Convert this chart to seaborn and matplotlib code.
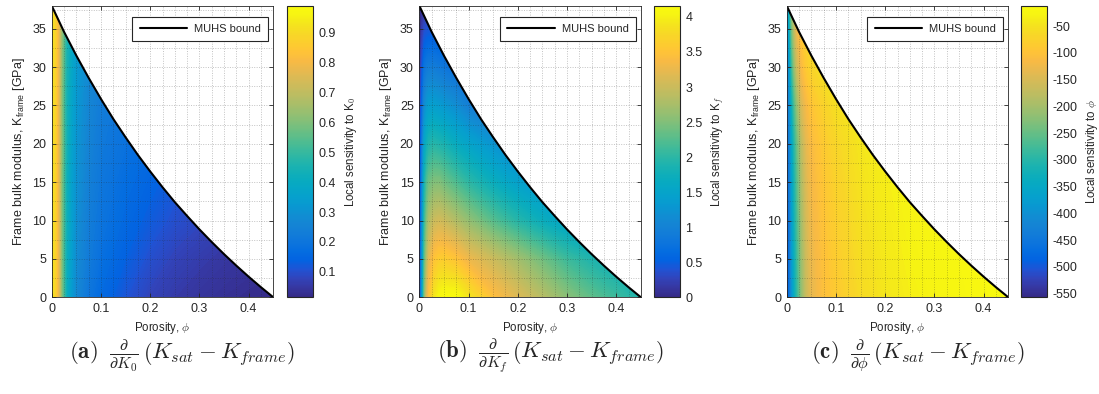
import numpy as np
import matplotlib
matplotlib.use("Agg")
import matplotlib.pyplot as plt
import seaborn as sns
from matplotlib.colors import LinearSegmentedColormap, Normalize
from matplotlib.cm import ScalarMappable
from matplotlib.patches import Polygon

# ---------------------------------------------------------------------------
# Data
# ---------------------------------------------------------------------------
# Grid nodes of the sensitivity maps
phi_nodes = [0, 0.005, 0.01, 0.015, 0.02, 0.03, 0.04, 0.05, 0.075, 0.1,
             0.15, 0.2, 0.25, 0.3, 0.35, 0.4, 0.45]
k_nodes = [0, 5, 10, 15, 20, 25, 30, 38]

# d(Ksat - Kframe)/dK0  (rows follow k_nodes, columns follow phi_nodes)
sens_k0 = [
    [0.93, 0.90, 0.84, 0.74, 0.60, 0.42, 0.33, 0.27, 0.20, 0.160, 0.110, 0.075, 0.055, 0.042, 0.032, 0.025, 0.020],
    [0.93, 0.90, 0.84, 0.74, 0.60, 0.42, 0.34, 0.28, 0.22, 0.180, 0.135, 0.100, 0.075, 0.060, 0.048, 0.040, 0.035],
    [0.93, 0.90, 0.84, 0.74, 0.60, 0.43, 0.35, 0.29, 0.23, 0.195, 0.155, 0.125, 0.100, 0.085, 0.070, 0.060, 0.050],
    [0.93, 0.90, 0.84, 0.74, 0.60, 0.43, 0.35, 0.30, 0.24, 0.205, 0.170, 0.145, 0.120, 0.100, 0.090, 0.080, 0.070],
    [0.93, 0.90, 0.84, 0.74, 0.61, 0.44, 0.36, 0.31, 0.25, 0.215, 0.185, 0.160, 0.140, 0.120, 0.100, 0.090, 0.080],
    [0.93, 0.90, 0.84, 0.74, 0.61, 0.44, 0.37, 0.32, 0.26, 0.225, 0.195, 0.170, 0.150, 0.130, 0.110, 0.100, 0.090],
    [0.93, 0.90, 0.84, 0.75, 0.62, 0.45, 0.38, 0.33, 0.27, 0.235, 0.200, 0.180, 0.160, 0.140, 0.120, 0.110, 0.100],
    [0.93, 0.90, 0.85, 0.76, 0.63, 0.46, 0.39, 0.34, 0.28, 0.245, 0.210, 0.190, 0.170, 0.150, 0.130, 0.120, 0.110],
]

# d(Ksat - Kframe)/dKf
sens_kf = [
    [0.0, 1.20, 2.40, 3.10, 3.50, 3.90, 4.08, 4.14, 4.14, 3.90, 3.45, 3.15, 2.85, 2.55, 2.30, 2.10, 1.90],
    [0.0, 1.10, 2.20, 2.80, 3.20, 3.50, 3.60, 3.62, 3.50, 3.28, 3.00, 2.70, 2.40, 2.10, 1.90, 1.75, 1.60],
    [0.0, 1.00, 2.00, 2.50, 2.80, 3.00, 3.05, 3.00, 2.80, 2.60, 2.25, 1.95, 1.70, 1.50, 1.35, 1.25, 1.20],
    [0.0, 0.90, 1.80, 2.20, 2.40, 2.50, 2.50, 2.40, 2.20, 2.00, 1.70, 1.45, 1.30, 1.15, 1.05, 1.00, 0.95],
    [0.0, 0.80, 1.50, 1.75, 1.90, 1.95, 1.90, 1.85, 1.65, 1.50, 1.25, 1.05, 0.95, 0.85, 0.80, 0.75, 0.70],
    [0.0, 0.60, 1.10, 1.30, 1.40, 1.40, 1.35, 1.30, 1.15, 0.95, 0.80, 0.70, 0.60, 0.55, 0.50, 0.50, 0.50],
    [0.0, 0.40, 0.75, 0.85, 0.90, 0.90, 0.85, 0.80, 0.70, 0.60, 0.50, 0.45, 0.40, 0.35, 0.35, 0.35, 0.35],
    [0.0, 0.05, 0.10, 0.11, 0.12, 0.12, 0.11, 0.10, 0.10, 0.10, 0.10, 0.10, 0.10, 0.10, 0.10, 0.10, 0.10],
]

# d(Ksat - Kframe)/dphi
sens_phi = [
    [-545, -470, -400, -345, -300, -220, -165, -135, -105, -88, -62, -45, -35, -28, -23, -20, -18],
    [-540, -465, -392, -337, -292, -212, -160, -130, -102, -84, -58, -42, -32, -26, -22, -19, -17],
    [-535, -458, -385, -328, -283, -203, -153, -125, -98, -80, -54, -39, -30, -24, -20, -18, -16],
    [-528, -450, -375, -318, -272, -193, -146, -120, -94, -75, -50, -36, -28, -23, -19, -17, -15],
    [-520, -440, -362, -305, -258, -180, -137, -113, -88, -69, -46, -33, -26, -21, -18, -16, -14],
    [-510, -420, -335, -275, -225, -152, -118, -98, -74, -56, -38, -28, -22, -18, -16, -14, -13],
    [-495, -390, -290, -225, -170, -115, -88, -72, -52, -40, -28, -22, -18, -15, -14, -13, -12],
    [-470, -330, -220, -160, -115, -80, -62, -50, -38, -30, -22, -18, -15, -13, -12, -12, -12],
]

# Modified upper Hashin-Shtrikman bound
bound_phi = [0, 0.025, 0.05, 0.075, 0.1, 0.125, 0.15, 0.175, 0.2, 0.225, 0.25,
             0.275, 0.3, 0.325, 0.35, 0.375, 0.4, 0.425, 0.45]
bound_k = [38.0, 34.6, 31.5, 28.6, 25.85, 23.25, 20.85, 18.55, 16.4, 14.35, 12.4,
           10.6, 8.85, 7.2, 5.62, 4.12, 2.68, 1.31, 0.0]

# Colour ranges and colourbar ticks
clim_k0 = (0.015, 0.99)
clim_kf = (0.0, 4.16)
clim_phi = (-557, -12)
cticks_k0 = [0.1, 0.2, 0.3, 0.4, 0.5, 0.6, 0.7, 0.8, 0.9]
cticks_kf = [0, 0.5, 1, 1.5, 2, 2.5, 3, 3.5, 4]
cticks_phi = [-550, -500, -450, -400, -350, -300, -250, -200, -150, -100, -50]

x_ticks = [0, 0.1, 0.2, 0.3, 0.4]
y_ticks = [0, 5, 10, 15, 20, 25, 30, 35]

cbar_labels = ["Local sensitivity to K$_0$", "Local sensitivity to K$_f$",
               "Local sensitivity to $\\phi$"]
captions = [
    r"$\mathbf{(a)}\;\;\frac{\partial}{\partial K_0}\,\left(K_{sat}-K_{frame}\right)$",
    r"$\mathbf{(b)}\;\;\frac{\partial}{\partial K_f}\,\left(K_{sat}-K_{frame}\right)$",
    r"$\mathbf{(c)}\;\;\frac{\partial}{\partial \phi}\,\left(K_{sat}-K_{frame}\right)$",
]


def fmt(v):
    return f"{v:g}"


# ---------------------------------------------------------------------------
# Style
# ---------------------------------------------------------------------------
sns.set_style("ticks")
plt.rcParams["font.family"] = ["Liberation Sans", "DejaVu Sans"]
plt.rcParams["mathtext.fontset"] = "cm"
plt.rcParams["axes.unicode_minus"] = False
plt.rcParams["axes.linewidth"] = 0.6

parula_rgb = [
    (0.2081, 0.1663, 0.5292), (0.2123, 0.2138, 0.6270), (0.1959, 0.2645, 0.7279),
    (0.1253, 0.3242, 0.8303), (0.0117, 0.3875, 0.8820), (0.0165, 0.4266, 0.8786),
    (0.0498, 0.4586, 0.8641), (0.0723, 0.4887, 0.8467), (0.0793, 0.5200, 0.8312),
    (0.0641, 0.5570, 0.8240), (0.0343, 0.5966, 0.8199), (0.0239, 0.6287, 0.8038),
    (0.0228, 0.6535, 0.7768), (0.0384, 0.6743, 0.7436), (0.0843, 0.6928, 0.7062),
    (0.1453, 0.7098, 0.6646), (0.2178, 0.7250, 0.6193), (0.3022, 0.7376, 0.5712),
    (0.3953, 0.7459, 0.5244), (0.4871, 0.7491, 0.4840), (0.5709, 0.7485, 0.4494),
    (0.6473, 0.7456, 0.4188), (0.7184, 0.7411, 0.3905), (0.7858, 0.7356, 0.3633),
    (0.8507, 0.7299, 0.3360), (0.9139, 0.7258, 0.3063), (0.9739, 0.7314, 0.2666),
    (0.9990, 0.7653, 0.2164), (0.9880, 0.8066, 0.1794), (0.9697, 0.8481, 0.1475),
    (0.9589, 0.8949, 0.1132), (0.9661, 0.9514, 0.0755), (0.9763, 0.9831, 0.0538),
]
parula = LinearSegmentedColormap.from_list("parula", parula_rgb, N=256)

edge = "#262626"

fig = plt.figure(figsize=(10.99, 3.94), dpi=100)

W, H = 1099.0, 394.0
ax_left = [51.7, 419.3, 786.7]
cb_left = [286.7, 654.0, 1021.0]
ax_w = 221.6
cb_w = 26.0
top_px, bot_px = 5.7, 297.3
cap_x = [182, 550, 918]

fields = [sens_k0, sens_kf, sens_phi]
clims = [clim_k0, clim_kf, clim_phi]
cticks = [cticks_k0, cticks_kf, cticks_phi]

for i in range(3):
    ax = fig.add_axes([ax_left[i] / W, (H - bot_px) / H, ax_w / W, (bot_px - top_px) / H])
    cax = fig.add_axes([cb_left[i] / W, (H - bot_px) / H, cb_w / W, (bot_px - top_px) / H])

    z = np.array(fields[i], dtype=float)
    norm = Normalize(vmin=clims[i][0], vmax=clims[i][1])
    levels = np.linspace(clims[i][0], clims[i][1], 220)
    cs = ax.contourf(np.array(phi_nodes), np.array(k_nodes), z, levels=levels,
                     cmap=parula, norm=norm, extend="both", antialiased=False, zorder=0)

    # keep the map inside the admissible region below the bound
    region = Polygon(np.column_stack([bound_phi + [0.0], bound_k + [0.0]]),
                     closed=True, transform=ax.transData, facecolor="none", edgecolor="none")
    ax.add_patch(region)
    cs.set_clip_path(region)

    sns.lineplot(x=bound_phi, y=bound_k, ax=ax, color="black", linewidth=1.5,
                 label="MUHS bound", sort=False, estimator=None, zorder=3)

    ax.set_xlim(0, 0.45)
    ax.set_ylim(0, 38)
    ax.set_xticks(x_ticks)
    ax.set_xticklabels([fmt(v) for v in x_ticks])
    ax.set_yticks(y_ticks)
    ax.set_xticks(np.arange(0, 0.4501, 0.025), minor=True)
    ax.set_yticks(np.arange(0, 38.01, 2.5), minor=True)
    ax.grid(which="both", linestyle=(0, (1, 1.5)), color=edge, alpha=0.28,
            linewidth=0.7, zorder=1)
    ax.set_axisbelow(False)
    ax.tick_params(which="major", direction="in", length=3, width=0.6, top=True, right=True,
                   labelsize=9, colors=edge, pad=4)
    ax.tick_params(which="minor", length=0, top=True, right=True)
    for s in ax.spines.values():
        s.set_color(edge)
        s.set_zorder(5)

    ax.set_xlabel("Porosity, $\\phi$", fontsize=8.3, color=edge, labelpad=4)
    ax.set_ylabel("Frame bulk modulus, K$_{\\mathregular{frame}}$ [GPa]", fontsize=9,
                  color=edge, labelpad=4)

    leg = ax.legend(loc="upper right", bbox_to_anchor=(0.977, 0.962), borderaxespad=0,
                    fontsize=8, frameon=True, fancybox=False, edgecolor=edge, framealpha=1,
                    handlelength=4.3, borderpad=0.65, handletextpad=0.6)
    leg.get_frame().set_linewidth(0.8)
    leg.set_zorder(10)

    cb = fig.colorbar(ScalarMappable(norm=norm, cmap=parula), cax=cax, ticks=cticks[i])
    cb.set_ticklabels([fmt(v) for v in cticks[i]])
    cb.outline.set_edgecolor(edge)
    cb.outline.set_linewidth(0.8)
    cb.ax.tick_params(direction="in", length=3, width=0.6, labelsize=9, colors=edge, pad=4)
    cb.set_label(cbar_labels[i], fontsize=8.3, color=edge, labelpad=5)

    fig.text(cap_x[i] / W, (H - 356) / H, captions[i], ha="center", va="center", fontsize=16.5)

fig.savefig("out.png", dpi=100)
